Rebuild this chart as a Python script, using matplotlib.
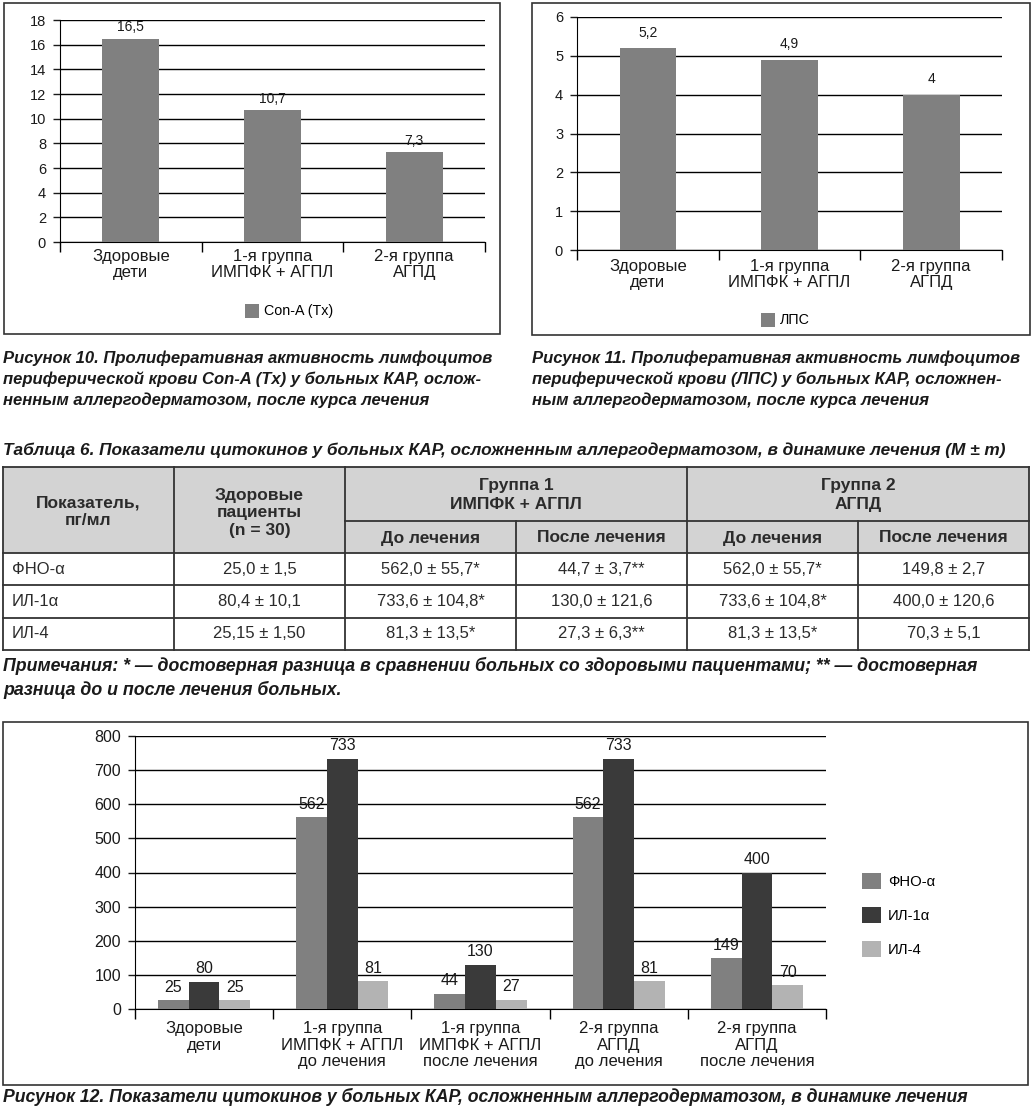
import numpy as np
import matplotlib
matplotlib.use('Agg')
import matplotlib.pyplot as plt
from matplotlib.patches import Rectangle

plt.rcParams['font.family'] = ['Liberation Sans', 'DejaVu Sans']

W, H = 1031, 1110

# ---- data
groups3 = ['Здоровые\nдети', '1-я группа\nИМПФК + АГПЛ', '2-я группа\nАГПД']
cona = [16.5, 10.7, 7.3]
cona_txt = ['16,5', '10,7', '7,3']
lps = [5.2, 4.9, 4]
lps_txt = ['5,2', '4,9', '4']

groups5 = ['Здоровые\nдети',
           '1-я группа\nИМПФК + АГПЛ\nдо лечения',
           '1-я группа\nИМПФК + АГПЛ\nпосле лечения',
           '2-я группа\nАГПД\nдо лечения',
           '2-я группа\nАГПД\nпосле лечения']
series = ['ФНО-α', 'ИЛ-1α', 'ИЛ-4']
fno = [25, 562, 44, 562, 149]
il1 = [80, 733, 130, 733, 400]
il4 = [25, 81, 27, 81, 70]

tab_rows = ['ФНО-α', 'ИЛ-1α', 'ИЛ-4']
healthy = ['25,0 ± 1,5', '80,4 ± 10,1', '25,15 ± 1,50']
g1_before = ['562,0 ± 55,7*', '733,6 ± 104,8*', '81,3 ± 13,5*']
g1_after = ['44,7 ± 3,7**', '130,0 ± 121,6', '27,3 ± 6,3**']
g2_before = ['562,0 ± 55,7*', '733,6 ± 104,8*', '81,3 ± 13,5*']
g2_after = ['149,8 ± 2,7', '400,0 ± 120,6', '70,3 ± 5,1']

cap10 = ['Рисунок 10. Пролиферативная активность лимфоцитов',
         'периферической крови Con-A (Tx) у больных КАР, ослож-',
         'ненным аллергодерматозом, после курса лечения']
cap11 = ['Рисунок 11. Пролиферативная активность лимфоцитов',
         'периферической крови (ЛПС) у больных КАР, осложнен-',
         'ным аллергодерматозом, после курса лечения']
tab_title = 'Таблица 6. Показатели цитокинов у больных КАР, осложненным аллергодерматозом, в динамике лечения (M ± m)'
notes = ['Примечания: * — достоверная разница в сравнении больных со здоровыми пациентами; ** — достоверная',
         'разница до и после лечения больных.']
cap12 = 'Рисунок 12. Показатели цитокинов у больных КАР, осложненным аллергодерматозом, в динамике лечения'

fig = plt.figure(figsize=(W / 100, H / 100), dpi=100)

# overlay in pixel coords for frames, table, captions
ov = fig.add_axes([0, 0, 1, 1], zorder=0)
ov.set_xlim(0, W)
ov.set_ylim(H, 0)
ov.axis('off')


def px_axes(l, t, r, b):
    ax = fig.add_axes([l / W, 1 - b / H, (r - l) / W, (b - t) / H], zorder=2)
    ax.set_facecolor('none')
    return ax


def frame(l, t, r, b):
    ov.add_patch(Rectangle((l, t), r - l, b - t, fill=False, ec='#333333', lw=1.2))


def style_axis(ax, tsize):
    for s in ['top', 'right']:
        ax.spines[s].set_visible(False)
    ax.spines['left'].set_color('black')
    ax.spines['bottom'].set_color('black')
    ax.grid(axis='y', color='black', lw=1)
    ax.set_axisbelow(True)
    ax.tick_params(axis='y', length=5, width=1, pad=5, labelsize=tsize, colors='#1a1a1a')


cap_style = dict(fontweight='bold', fontstyle='italic', color='#1a1a1a')

# ---- small charts
def small_chart(box, axbox, vals, txts, ymax, step, name, off, xpad, leg_xy):
    frame(*box)
    ax = px_axes(*axbox)
    x = np.arange(len(vals))
    bars = ax.bar(x, vals, width=0.4, color='#808080', zorder=3)
    ax.set_xlim(-0.5, 2.5)
    ax.set_ylim(0, ymax)
    ax.set_yticks(np.arange(0, ymax + step / 2, step))
    style_axis(ax, 10.5)
    for b, t in zip(bars, txts):
        ax.annotate(t, (b.get_x() + b.get_width() / 2, b.get_height()),
                    xytext=(0, off), textcoords='offset points',
                    ha='center', va='bottom', fontsize=10, color='#1a1a1a')
    ax.set_xticks(x, groups3, fontsize=12, linespacing=1.1, color='#1a1a1a')
    ax.tick_params(axis='x', which='major', length=0, pad=xpad)
    ax.set_xticks([-0.5, 0.5, 1.5, 2.5], minor=True)
    ax.tick_params(axis='x', which='minor', length=7, width=1)
    fig.legend([bars], [name], loc='center left',
               bbox_to_anchor=(leg_xy[0] / W, 1 - leg_xy[1] / H),
               frameon=False, fontsize=10.3, handlelength=0.95, handleheight=1.15,
               handletextpad=0.4, borderpad=0, borderaxespad=0)
    return ax


small_chart((4, 3, 500, 334), (60, 20, 485, 242), cona, cona_txt, 18, 2,
            'Con-A (Tx)', 3, 5, (245, 311))
small_chart((532, 3, 1030, 335), (577, 17, 1002, 250), lps, lps_txt, 6, 1,
            'ЛПС', 6, 6.5, (761, 320))

ov.text(3, 379, '\n'.join(cap10), ha='left', va='center', linespacing=1.43,
        fontsize=12, **cap_style)
ov.text(532, 379, '\n'.join(cap11), ha='left', va='center', linespacing=1.43,
        fontsize=12, **cap_style)

# ---- table
ov.text(3, 450, tab_title, ha='left', va='center', fontsize=12.4, **cap_style)
cols = [3, 174, 345, 516, 687, 858, 1029]
top, mid, hbot = 467, 521, 553
rows_y = [553, 585, 618, 650]
lc = '#333333'
ov.add_patch(Rectangle((cols[0], top), cols[-1] - cols[0], hbot - top, fc='#d3d3d3', ec='none'))
for y in [top, hbot] + rows_y[1:]:
    ov.plot([cols[0], cols[-1]], [y, y], color=lc, lw=1.3)
ov.plot([cols[2], cols[-1]], [mid, mid], color=lc, lw=1.3)
for xc in [cols[0], cols[1], cols[2], cols[4], cols[6]]:
    ov.plot([xc, xc], [top, rows_y[-1]], color=lc, lw=1.3)
for xc in [cols[3], cols[5]]:
    ov.plot([xc, xc], [mid, rows_y[-1]], color=lc, lw=1.3)

hdr = dict(fontsize=12.5, fontweight='bold', color='#2b2b2b', ha='center', va='center')
ov.text((cols[0] + cols[1]) / 2, 512, 'Показатель,\nпг/мл', linespacing=1.2, **hdr)
ov.text((cols[1] + cols[2]) / 2, 513, 'Здоровые\nпациенты\n(n = 30)', linespacing=1.2, **hdr)
ov.text((cols[2] + cols[4]) / 2, 495, 'Группа 1\nИМПФК + АГПЛ', linespacing=1.3, **hdr)
ov.text((cols[4] + cols[6]) / 2, 495, 'Группа 2\nАГПД', linespacing=1.3, **hdr)
for i, t in enumerate(['До лечения', 'После лечения', 'До лечения', 'После лечения']):
    ov.text((cols[2 + i] + cols[3 + i]) / 2, 538, t, **hdr)

body = [healthy, g1_before, g1_after, g2_before, g2_after]
for r, name in enumerate(tab_rows):
    yc = (rows_y[r] + rows_y[r + 1]) / 2
    ov.text(cols[0] + 9, yc, name, ha='left', va='center', fontsize=12, color='#2b2b2b')
    for c, col in enumerate(body):
        ov.text((cols[c + 1] + cols[c + 2]) / 2, yc, col[r], ha='center', va='center',
                fontsize=12, color='#2b2b2b')

ov.text(3, 678, '\n'.join(notes), ha='left', va='center', linespacing=1.4,
        fontsize=12.8, **cap_style)

# ---- big chart
frame(3, 722, 1028, 1085)
ax = px_axes(135, 736, 826, 1009)
x = np.arange(len(groups5))
w = 0.222
colors = ['#808080', '#3a3a3a', '#b3b3b3']
handles = []
for k, vals in enumerate([fno, il1, il4]):
    bars = ax.bar(x + (k - 1) * w, vals, width=w, color=colors[k], zorder=3)
    handles.append(bars)
    for b in bars:
        ax.annotate(str(int(b.get_height())), (b.get_x() + b.get_width() / 2, b.get_height()),
                    xytext=(0, 4), textcoords='offset points', ha='center', va='bottom',
                    fontsize=11.5, color='#1a1a1a')
ax.set_xlim(-0.5, len(groups5) - 0.5)
ax.set_ylim(0, 800)
ax.set_yticks(np.arange(0, 801, 100))
style_axis(ax, 11.5)
ax.set_xticks(x, groups5, fontsize=12, linespacing=1.12, color='#1a1a1a')
ax.tick_params(axis='x', which='major', length=0, pad=9)
ax.set_xticks(np.arange(-0.5, len(groups5)), minor=True)
ax.tick_params(axis='x', which='minor', length=7, width=1)

fig.legend(handles, series, loc='center left', bbox_to_anchor=(862 / W, 1 - 915 / H),
           frameon=False, fontsize=10.7, handlelength=1.3, handleheight=1.3,
           handletextpad=0.45, labelspacing=1.2, borderpad=0, borderaxespad=0)

ov.text(3, 1097, cap12, ha='left', va='center', fontsize=12.7, **cap_style)

fig.savefig('out.png', dpi=100, facecolor='white')
